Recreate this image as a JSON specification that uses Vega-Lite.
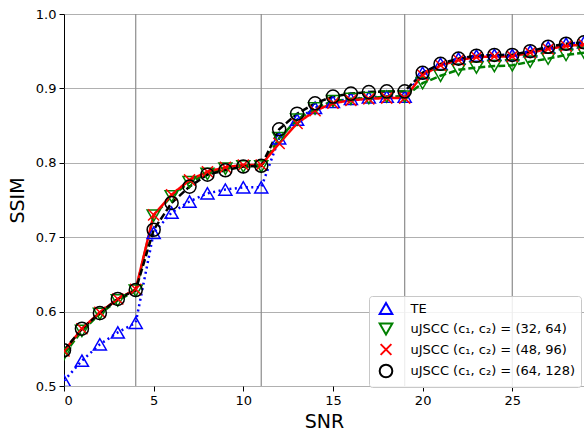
{
  "$schema": "https://vega.github.io/schema/vega-lite/v6.json",
  "width": 520,
  "height": 372,
  "autosize": {"type": "none"},
  "padding": {"left": 64, "top": 14, "right": 0, "bottom": 44},
  "background": "white",
  "config": {
    "font": "DejaVu Sans",
    "view": {"stroke": "#000000", "strokeWidth": 1},
    "axis": {
      "labelFontSize": 13,
      "labelColor": "#000000",
      "tickColor": "#000000",
      "tickSize": 5,
      "labelPadding": 3,
      "domain": false,
      "titleFontSize": 19,
      "titleFontWeight": "normal",
      "titleColor": "#000000"
    },
    "legend": {
      "orient": "none", "legendX": 305, "legendY": 282, "padding": 5,
      "fillColor": "rgba(255,255,255,0.85)", "strokeColor": "#c8c8c8", "cornerRadius": 3,
      "labelFontSize": 13, "labelColor": "#000000", "labelLimit": 260, "symbolSize": 160, "symbolOffset": 4.5, "labelOffset": 17,
      "rowPadding": 1.5, "symbolStrokeWidth": 2, "symbolFillColor": "transparent"
    }
  },
  "resolve": {"legend": {"color": "independent", "strokeDash": "independent", "shape": "independent"}},
  "datasets": {
    "vgrid": [{"x": 4}, {"x": 11}, {"x": 19}, {"x": 25}],
    "curves": [
      {"series": "TE", "x": 0, "y": 0.507}, {"series": "TE", "x": 1, "y": 0.534}, {"series": "TE", "x": 2, "y": 0.556}, {"series": "TE", "x": 3, "y": 0.572}, {"series": "TE", "x": 4, "y": 0.585}, {"series": "TE", "x": 5, "y": 0.706}, {"series": "TE", "x": 6, "y": 0.733}, {"series": "TE", "x": 7, "y": 0.748}, {"series": "TE", "x": 8, "y": 0.759}, {"series": "TE", "x": 9, "y": 0.764}, {"series": "TE", "x": 10, "y": 0.767}, {"series": "TE", "x": 11, "y": 0.767}, {"series": "TE", "x": 12, "y": 0.833}, {"series": "TE", "x": 13, "y": 0.858}, {"series": "TE", "x": 14, "y": 0.874}, {"series": "TE", "x": 15, "y": 0.882}, {"series": "TE", "x": 16, "y": 0.886}, {"series": "TE", "x": 17, "y": 0.888}, {"series": "TE", "x": 18, "y": 0.889}, {"series": "TE", "x": 19, "y": 0.889}, {"series": "TE", "x": 20, "y": 0.921}, {"series": "TE", "x": 21, "y": 0.933}, {"series": "TE", "x": 22, "y": 0.940}, {"series": "TE", "x": 23, "y": 0.944}, {"series": "TE", "x": 24, "y": 0.945}, {"series": "TE", "x": 25, "y": 0.945}, {"series": "TE", "x": 26, "y": 0.950}, {"series": "TE", "x": 27, "y": 0.955}, {"series": "TE", "x": 28, "y": 0.960}, {"series": "TE", "x": 29, "y": 0.962},
      {"series": "uJSCC (c₁, c₂) = (32, 64)", "x": 0, "y": 0.543}, {"series": "uJSCC (c₁, c₂) = (32, 64)", "x": 1, "y": 0.574}, {"series": "uJSCC (c₁, c₂) = (32, 64)", "x": 2, "y": 0.597}, {"series": "uJSCC (c₁, c₂) = (32, 64)", "x": 3, "y": 0.615}, {"series": "uJSCC (c₁, c₂) = (32, 64)", "x": 4, "y": 0.628}, {"series": "uJSCC (c₁, c₂) = (32, 64)", "x": 5, "y": 0.729}, {"series": "uJSCC (c₁, c₂) = (32, 64)", "x": 6, "y": 0.755}, {"series": "uJSCC (c₁, c₂) = (32, 64)", "x": 7, "y": 0.774}, {"series": "uJSCC (c₁, c₂) = (32, 64)", "x": 8, "y": 0.785}, {"series": "uJSCC (c₁, c₂) = (32, 64)", "x": 9, "y": 0.792}, {"series": "uJSCC (c₁, c₂) = (32, 64)", "x": 10, "y": 0.795}, {"series": "uJSCC (c₁, c₂) = (32, 64)", "x": 11, "y": 0.795}, {"series": "uJSCC (c₁, c₂) = (32, 64)", "x": 12, "y": 0.833}, {"series": "uJSCC (c₁, c₂) = (32, 64)", "x": 13, "y": 0.858}, {"series": "uJSCC (c₁, c₂) = (32, 64)", "x": 14, "y": 0.873}, {"series": "uJSCC (c₁, c₂) = (32, 64)", "x": 15, "y": 0.883}, {"series": "uJSCC (c₁, c₂) = (32, 64)", "x": 16, "y": 0.886}, {"series": "uJSCC (c₁, c₂) = (32, 64)", "x": 17, "y": 0.887}, {"series": "uJSCC (c₁, c₂) = (32, 64)", "x": 18, "y": 0.889}, {"series": "uJSCC (c₁, c₂) = (32, 64)", "x": 19, "y": 0.889}, {"series": "uJSCC (c₁, c₂) = (32, 64)", "x": 20, "y": 0.907}, {"series": "uJSCC (c₁, c₂) = (32, 64)", "x": 21, "y": 0.917}, {"series": "uJSCC (c₁, c₂) = (32, 64)", "x": 22, "y": 0.925}, {"series": "uJSCC (c₁, c₂) = (32, 64)", "x": 23, "y": 0.928}, {"series": "uJSCC (c₁, c₂) = (32, 64)", "x": 24, "y": 0.930}, {"series": "uJSCC (c₁, c₂) = (32, 64)", "x": 25, "y": 0.931}, {"series": "uJSCC (c₁, c₂) = (32, 64)", "x": 26, "y": 0.936}, {"series": "uJSCC (c₁, c₂) = (32, 64)", "x": 27, "y": 0.940}, {"series": "uJSCC (c₁, c₂) = (32, 64)", "x": 28, "y": 0.945}, {"series": "uJSCC (c₁, c₂) = (32, 64)", "x": 29, "y": 0.948},
      {"series": "uJSCC (c₁, c₂) = (48, 96)", "x": 0, "y": 0.547}, {"series": "uJSCC (c₁, c₂) = (48, 96)", "x": 1, "y": 0.577}, {"series": "uJSCC (c₁, c₂) = (48, 96)", "x": 2, "y": 0.599}, {"series": "uJSCC (c₁, c₂) = (48, 96)", "x": 3, "y": 0.617}, {"series": "uJSCC (c₁, c₂) = (48, 96)", "x": 4, "y": 0.630}, {"series": "uJSCC (c₁, c₂) = (48, 96)", "x": 5, "y": 0.730}, {"series": "uJSCC (c₁, c₂) = (48, 96)", "x": 6, "y": 0.757}, {"series": "uJSCC (c₁, c₂) = (48, 96)", "x": 7, "y": 0.777}, {"series": "uJSCC (c₁, c₂) = (48, 96)", "x": 8, "y": 0.788}, {"series": "uJSCC (c₁, c₂) = (48, 96)", "x": 9, "y": 0.794}, {"series": "uJSCC (c₁, c₂) = (48, 96)", "x": 10, "y": 0.797}, {"series": "uJSCC (c₁, c₂) = (48, 96)", "x": 11, "y": 0.797}, {"series": "uJSCC (c₁, c₂) = (48, 96)", "x": 12, "y": 0.826}, {"series": "uJSCC (c₁, c₂) = (48, 96)", "x": 13, "y": 0.853}, {"series": "uJSCC (c₁, c₂) = (48, 96)", "x": 14, "y": 0.870}, {"series": "uJSCC (c₁, c₂) = (48, 96)", "x": 15, "y": 0.880}, {"series": "uJSCC (c₁, c₂) = (48, 96)", "x": 16, "y": 0.884}, {"series": "uJSCC (c₁, c₂) = (48, 96)", "x": 17, "y": 0.886}, {"series": "uJSCC (c₁, c₂) = (48, 96)", "x": 18, "y": 0.887}, {"series": "uJSCC (c₁, c₂) = (48, 96)", "x": 19, "y": 0.887}, {"series": "uJSCC (c₁, c₂) = (48, 96)", "x": 20, "y": 0.918}, {"series": "uJSCC (c₁, c₂) = (48, 96)", "x": 21, "y": 0.931}, {"series": "uJSCC (c₁, c₂) = (48, 96)", "x": 22, "y": 0.938}, {"series": "uJSCC (c₁, c₂) = (48, 96)", "x": 23, "y": 0.942}, {"series": "uJSCC (c₁, c₂) = (48, 96)", "x": 24, "y": 0.943}, {"series": "uJSCC (c₁, c₂) = (48, 96)", "x": 25, "y": 0.943}, {"series": "uJSCC (c₁, c₂) = (48, 96)", "x": 26, "y": 0.948}, {"series": "uJSCC (c₁, c₂) = (48, 96)", "x": 27, "y": 0.953}, {"series": "uJSCC (c₁, c₂) = (48, 96)", "x": 28, "y": 0.957}, {"series": "uJSCC (c₁, c₂) = (48, 96)", "x": 29, "y": 0.959},
      {"series": "uJSCC (c₁, c₂) = (64, 128)", "x": 0, "y": 0.548}, {"series": "uJSCC (c₁, c₂) = (64, 128)", "x": 1, "y": 0.577}, {"series": "uJSCC (c₁, c₂) = (64, 128)", "x": 2, "y": 0.598}, {"series": "uJSCC (c₁, c₂) = (64, 128)", "x": 3, "y": 0.617}, {"series": "uJSCC (c₁, c₂) = (64, 128)", "x": 4, "y": 0.629}, {"series": "uJSCC (c₁, c₂) = (64, 128)", "x": 5, "y": 0.710}, {"series": "uJSCC (c₁, c₂) = (64, 128)", "x": 6, "y": 0.746}, {"series": "uJSCC (c₁, c₂) = (64, 128)", "x": 7, "y": 0.768}, {"series": "uJSCC (c₁, c₂) = (64, 128)", "x": 8, "y": 0.784}, {"series": "uJSCC (c₁, c₂) = (64, 128)", "x": 9, "y": 0.790}, {"series": "uJSCC (c₁, c₂) = (64, 128)", "x": 10, "y": 0.795}, {"series": "uJSCC (c₁, c₂) = (64, 128)", "x": 11, "y": 0.796}, {"series": "uJSCC (c₁, c₂) = (64, 128)", "x": 12, "y": 0.845}, {"series": "uJSCC (c₁, c₂) = (64, 128)", "x": 13, "y": 0.866}, {"series": "uJSCC (c₁, c₂) = (64, 128)", "x": 14, "y": 0.880}, {"series": "uJSCC (c₁, c₂) = (64, 128)", "x": 15, "y": 0.889}, {"series": "uJSCC (c₁, c₂) = (64, 128)", "x": 16, "y": 0.893}, {"series": "uJSCC (c₁, c₂) = (64, 128)", "x": 17, "y": 0.895}, {"series": "uJSCC (c₁, c₂) = (64, 128)", "x": 18, "y": 0.896}, {"series": "uJSCC (c₁, c₂) = (64, 128)", "x": 19, "y": 0.896}, {"series": "uJSCC (c₁, c₂) = (64, 128)", "x": 20, "y": 0.921}, {"series": "uJSCC (c₁, c₂) = (64, 128)", "x": 21, "y": 0.933}, {"series": "uJSCC (c₁, c₂) = (64, 128)", "x": 22, "y": 0.940}, {"series": "uJSCC (c₁, c₂) = (64, 128)", "x": 23, "y": 0.944}, {"series": "uJSCC (c₁, c₂) = (64, 128)", "x": 24, "y": 0.945}, {"series": "uJSCC (c₁, c₂) = (64, 128)", "x": 25, "y": 0.945}, {"series": "uJSCC (c₁, c₂) = (64, 128)", "x": 26, "y": 0.950}, {"series": "uJSCC (c₁, c₂) = (64, 128)", "x": 27, "y": 0.956}, {"series": "uJSCC (c₁, c₂) = (64, 128)", "x": 28, "y": 0.960}, {"series": "uJSCC (c₁, c₂) = (64, 128)", "x": 29, "y": 0.962}
    ]
  },
  "layer": [
    {
      "data": {"name": "vgrid"},
      "mark": {"type": "rule", "color": "#8c8c8c", "strokeWidth": 1.2},
      "encoding": {
        "x": {"field": "x", "type": "quantitative", "scale": {"domain": [0, 29], "nice": false, "zero": false},
              "axis": {"title": "SNR", "values": [0, 5, 10, 15, 20, 25], "grid": false, "titlePadding": 5}}
      }
    },
    {
      "data": {"name": "curves"},
      "mark": {"type": "line", "strokeWidth": 2.5, "clip": true},
      "encoding": {
        "x": {"field": "x", "type": "quantitative", "scale": {"domain": [0, 29], "nice": false, "zero": false},
              "axis": {"title": "SNR", "values": [0, 5, 10, 15, 20, 25], "grid": false, "titlePadding": 5}},
        "y": {"field": "y", "type": "quantitative", "scale": {"domain": [0.5, 1.0], "nice": false, "zero": false},
              "axis": {"title": "SSIM", "values": [0.5, 0.6, 0.7, 0.8, 0.9, 1.0], "format": ".1f", "grid": true, "gridColor": "#b0b0b0", "gridWidth": 1, "titlePadding": 8}},
        "color": {"field": "series", "type": "nominal",
                  "scale": {"domain": ["TE", "uJSCC (c₁, c₂) = (32, 64)", "uJSCC (c₁, c₂) = (48, 96)", "uJSCC (c₁, c₂) = (64, 128)"], "range": ["#0000ff", "#008000", "#ff0000", "#000000"]},
                  "legend": null},
        "strokeDash": {"field": "series", "type": "nominal",
                  "scale": {"domain": ["TE", "uJSCC (c₁, c₂) = (32, 64)", "uJSCC (c₁, c₂) = (48, 96)", "uJSCC (c₁, c₂) = (64, 128)"], "range": [[2, 3.5], [7, 3], [1, 0], [7, 3]]},
                  "legend": null}
      }
    },
    {
      "data": {"name": "curves"},
      "mark": {"type": "point", "filled": false, "strokeWidth": 1.5, "size": 170, "opacity": 1, "clip": true},
      "encoding": {
        "x": {"field": "x", "type": "quantitative"},
        "y": {"field": "y", "type": "quantitative"},
        "color": {"field": "series", "type": "nominal", "legend": {"title": null}},
        "shape": {"field": "series", "type": "nominal",
                  "scale": {"domain": ["TE", "uJSCC (c₁, c₂) = (32, 64)", "uJSCC (c₁, c₂) = (48, 96)", "uJSCC (c₁, c₂) = (64, 128)"], "range": ["triangle-up", "triangle-down", "M-0.85,-0.85L0.85,0.85M-0.85,0.85L0.85,-0.85", "circle"]},
                  "legend": {"title": null}}
      }
    }
  ]
}
